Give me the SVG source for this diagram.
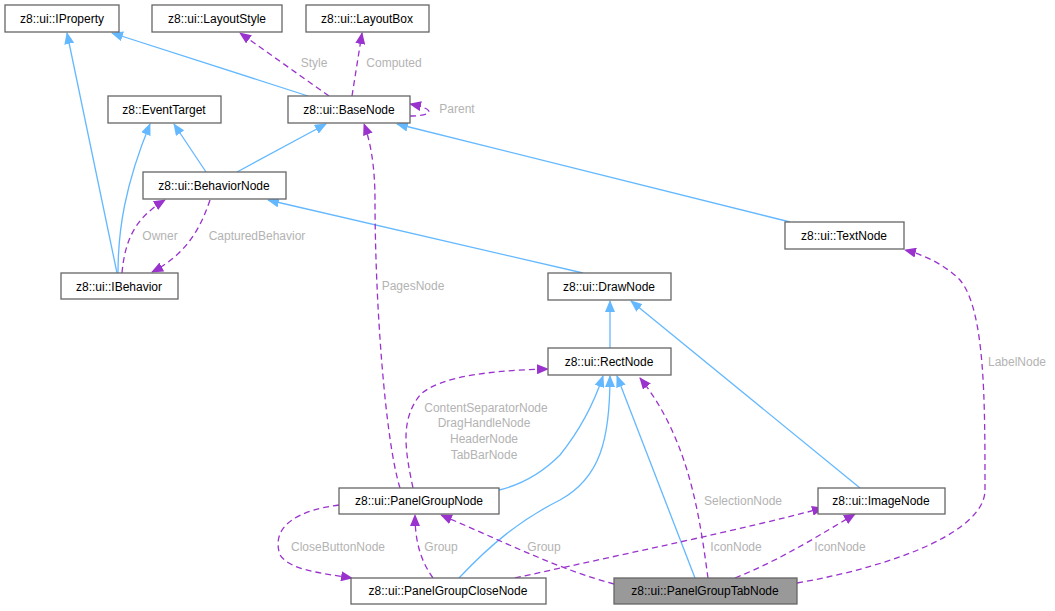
<svg xmlns="http://www.w3.org/2000/svg" width="1055" height="611" viewBox="0 0 1055 611">
<style>
.n rect{fill:#fff;stroke:#666;stroke-width:1.3}
.n text,.l{font-family:"Liberation Sans",Arial,sans-serif;font-size:12px;text-anchor:middle}
.n text{fill:#000}
.l{fill:#b3b3b3}
.b{fill:none;stroke:#63b8ff;stroke-width:1.3}
.p{fill:none;stroke:#9a32cd;stroke-width:1.3;stroke-dasharray:6,4}
</style>
<defs>
<marker id="ab" markerWidth="12" markerHeight="10" refX="11" refY="5" orient="auto" markerUnits="userSpaceOnUse"><path d="M0,0L12,5L0,10z" fill="#63b8ff"/></marker>
<marker id="ap" markerWidth="12" markerHeight="10" refX="11" refY="5" orient="auto" markerUnits="userSpaceOnUse"><path d="M0,0L12,5L0,10z" fill="#9a32cd"/></marker>
</defs>
<rect width="1055" height="611" fill="#fff"/>
<g id="edges">
<path class="b" marker-end="url(#ab)" d="M308,96L112,33"/>
<path class="b" marker-end="url(#ab)" d="M117,273L67,33"/>
<path class="b" marker-end="url(#ab)" d="M118,273C118,230 125,185 150,124"/>
<path class="b" marker-end="url(#ab)" d="M206,172L174,124"/>
<path class="b" marker-end="url(#ab)" d="M237,172L326,124"/>
<path class="b" marker-end="url(#ab)" d="M790,222L397,124"/>
<path class="b" marker-end="url(#ab)" d="M583,273L268,200"/>
<path class="b" marker-end="url(#ab)" d="M610,348L610,301"/>
<path class="b" marker-end="url(#ab)" d="M860,488L631,301"/>
<path class="b" marker-end="url(#ab)" d="M499,490C520,485 540,475 560,455C580,430 595,400 603,376"/>
<path class="b" marker-end="url(#ab)" d="M459,578C490,545 520,520 560,500C600,478 610,440 610,376"/>
<path class="b" marker-end="url(#ab)" d="M695,578L617,376"/>
<path class="p" marker-end="url(#ap)" d="M329,96L240,33"/>
<path class="p" marker-end="url(#ap)" d="M352,96L362,33"/>
<path class="p" marker-end="url(#ap)" d="M410,116C430,116 440,110 410,104"/>
<path class="p" marker-end="url(#ap)" d="M122,273C125,240 135,218 165,200"/>
<path class="p" marker-end="url(#ap)" d="M210,200C200,230 185,255 152,272"/>
<path class="p" marker-end="url(#ap)" d="M400,488C385,440 375,300 375,200C375,165 370,140 364,124"/>
<path class="p" marker-end="url(#ap)" d="M413,488C405,450 400,420 420,395C440,375 500,370 548,369"/>
<path class="p" marker-end="url(#ap)" d="M708,578C700,520 690,440 640,378"/>
<path class="p" marker-end="url(#ap)" d="M339,505C300,510 270,525 280,555C290,570 320,573 352,578"/>
<path class="p" marker-end="url(#ap)" d="M433,578C420,560 415,540 415,515"/>
<path class="p" marker-end="url(#ap)" d="M614,584C560,570 500,540 441,515"/>
<path class="p" marker-end="url(#ap)" d="M515,578C620,555 740,530 823,508"/>
<path class="p" marker-end="url(#ap)" d="M735,578C780,560 820,535 855,514"/>
<path class="p" marker-end="url(#ap)" d="M797,583C900,565 985,530 985,490C985,400 985,310 960,280C945,265 925,255 905,250"/>
</g>
<g class="l">
<text x="314" y="67">Style</text>
<text x="394" y="67">Computed</text>
<text x="457" y="113">Parent</text>
<text x="160" y="240">Owner</text>
<text x="257" y="240">CapturedBehavior</text>
<text x="413" y="290">PagesNode</text>
<text x="486" y="412">ContentSeparatorNode</text>
<text x="484" y="427">DragHandleNode</text>
<text x="484" y="443">HeaderNode</text>
<text x="484" y="459">TabBarNode</text>
<text x="338" y="551">CloseButtonNode</text>
<text x="441" y="551">Group</text>
<text x="544" y="551">Group</text>
<text x="743" y="505">SelectionNode</text>
<text x="736" y="551">IconNode</text>
<text x="840" y="551">IconNode</text>
<text x="1017" y="366">LabelNode</text>
</g>
<g id="IProperty" class="n"><rect x="5" y="5" width="114" height="27"/><text x="62" y="23">z8::ui::IProperty</text></g>
<g id="LayoutStyle" class="n"><rect x="152" y="5" width="130" height="27"/><text x="217" y="23">z8::ui::LayoutStyle</text></g>
<g id="LayoutBox" class="n"><rect x="306" y="5" width="123" height="27"/><text x="367" y="23">z8::ui::LayoutBox</text></g>
<g id="EventTarget" class="n"><rect x="108" y="96" width="113" height="27"/><text x="164" y="114">z8::EventTarget</text></g>
<g id="BaseNode" class="n"><rect x="288" y="96" width="122" height="27"/><text x="349" y="114">z8::ui::BaseNode</text></g>
<g id="BehaviorNode" class="n"><rect x="143" y="172" width="143" height="27"/><text x="214" y="190">z8::ui::BehaviorNode</text></g>
<g id="IBehavior" class="n"><rect x="61" y="273" width="117" height="26"/><text x="119" y="291">z8::ui::IBehavior</text></g>
<g id="TextNode" class="n"><rect x="785" y="222" width="119" height="27"/><text x="844" y="240">z8::ui::TextNode</text></g>
<g id="DrawNode" class="n"><rect x="548" y="273" width="123" height="27"/><text x="609" y="291">z8::ui::DrawNode</text></g>
<g id="RectNode" class="n"><rect x="548" y="348" width="123" height="27"/><text x="609" y="366">z8::ui::RectNode</text></g>
<g id="PanelGroupNode" class="n"><rect x="339" y="488" width="160" height="26"/><text x="419" y="505">z8::ui::PanelGroupNode</text></g>
<g id="ImageNode" class="n"><rect x="818" y="488" width="127" height="26"/><text x="881" y="505">z8::ui::ImageNode</text></g>
<g id="PanelGroupCloseNode" class="n"><rect x="351" y="578" width="195" height="26"/><text x="448" y="595">z8::ui::PanelGroupCloseNode</text></g>
<g id="PanelGroupTabNode" class="n"><rect x="614" y="578" width="183" height="26" style="fill:#999"/><text x="705" y="595">z8::ui::PanelGroupTabNode</text></g>
</svg>
